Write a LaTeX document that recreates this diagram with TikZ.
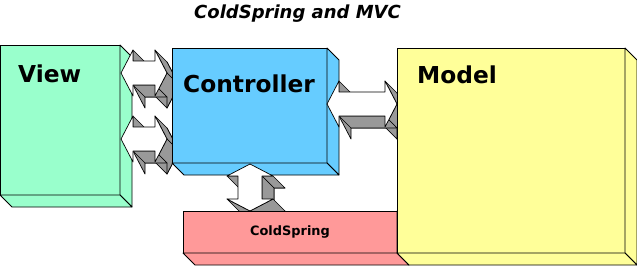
\documentclass[tikz,border=0pt]{standalone}
\usepackage{fontspec}
\setmainfont{DejaVu Sans}
\usepackage{tikz}
\usetikzlibrary{positioning,calc}

\definecolor{viewgreen}{HTML}{99FFCC}
\definecolor{ctrlblue}{HTML}{66CCFF}
\definecolor{modelyellow}{HTML}{FFFF99}
\definecolor{springred}{HTML}{FF9999}
\definecolor{arrowgrey}{HTML}{999999}

% right and bottom faces of a box node
\newcommand\boxdepth[2]{%
  \draw[depthface, fill=#2] (#1.north east) -- ([depthshift]#1.north east)
        -- ([depthshift]#1.south east) -- (#1.south east) -- cycle;
  \draw[depthface, fill=#2] (#1.south west) -- (#1.south east)
        -- ([depthshift]#1.south east) -- ([depthshift]#1.south west) -- cycle;
}

% double block arrow, left tip #1 to right tip #2
\newcommand\hlink[2]{%
  \path let \p1=(#1), \p2=(#2) in
    (\x1,\y1)             coordinate (a1)
    (\x1+12pt,\y1+23pt)   coordinate (a2)
    (\x1+12pt,\y1+12pt)   coordinate (a3)
    (\x2-12pt,\y1+12pt)   coordinate (a4)
    (\x2-12pt,\y1+23pt)   coordinate (a5)
    (\x2,\y1)             coordinate (a6)
    (\x2-12pt,\y1-23pt)   coordinate (a7)
    (\x2-12pt,\y1-12pt)   coordinate (a8)
    (\x1+12pt,\y1-12pt)   coordinate (a9)
    (\x1+12pt,\y1-23pt)   coordinate (a10);
  \draw[arrowface, fill=arrowgrey] ([depthshift]a1)
    \foreach \k in {2,...,10} { -- ([depthshift]a\k) } -- cycle;
  \foreach \u/\v in {a2/a3, a5/a6, a6/a7, a7/a8, a8/a9}
    \draw[arrowface, fill=arrowgrey] (\u) -- (\v) -- ([depthshift]\v) -- ([depthshift]\u) -- cycle;
  \draw[arrowface, fill=white] (a1) \foreach \k in {2,...,10} { -- (a\k) } -- cycle;
}

% same, upright: top tip #1 to bottom tip #2
\newcommand\vlink[2]{%
  \path let \p1=(#1), \p2=(#2) in
    (\x1,\y1)             coordinate (a1)
    (\x1+23pt,\y1-12pt)   coordinate (a2)
    (\x1+12pt,\y1-12pt)   coordinate (a3)
    (\x1+12pt,\y2+12pt)   coordinate (a4)
    (\x1+23pt,\y2+12pt)   coordinate (a5)
    (\x1,\y2)             coordinate (a6)
    (\x1-23pt,\y2+12pt)   coordinate (a7)
    (\x1-12pt,\y2+12pt)   coordinate (a8)
    (\x1-12pt,\y1-12pt)   coordinate (a9)
    (\x1-23pt,\y1-12pt)   coordinate (a10);
  \draw[arrowface, fill=arrowgrey] ([depthshift]a1)
    \foreach \k in {2,...,10} { -- ([depthshift]a\k) } -- cycle;
  \foreach \u/\v in {a2/a3, a3/a4, a5/a6, a6/a7, a9/a10}
    \draw[arrowface, fill=arrowgrey] (\u) -- (\v) -- ([depthshift]\v) -- ([depthshift]\u) -- cycle;
  \draw[arrowface, fill=white] (a1) \foreach \k in {2,...,10} { -- (a\k) } -- cycle;
}

\begin{document}
\begin{tikzpicture}[
    x=1pt, y=1pt,
    depthshift/.style={shift={(12pt,-12pt)}},
    box/.style={draw, line width=.8pt, inner sep=0pt, outer sep=0pt},
    depthface/.style={draw, line width=.8pt, line join=round},
    arrowface/.style={draw, line width=.7pt, line join=round},
    boxlabel/.style={font=\fontsize{23.3}{28}\selectfont\bfseries,
                     inner sep=0pt, anchor=base west},
]
\useasboundingbox (0,0) rectangle (637,-266);

% --- View (left) ---
\node[box, fill=viewgreen, minimum width=120pt, minimum height=150pt,
      anchor=north west] (view) at (0,-45) {};
\boxdepth{view}{viewgreen}
\node[boxlabel] (viewlbl) at ($(view.north west)+(18,-37)$) {View};

% two links View <-> Controller
\coordinate (vc1) at ($(view.north east)+(1,-28)$);
\coordinate (cv1) at ($(vc1)+(46,0)$);
\coordinate (vc2) at ($(vc1)+(0,-66)$);
\coordinate (cv2) at ($(vc2)+(46,0)$);
\hlink{vc1}{cv1}
\hlink{vc2}{cv2}

% --- Controller (middle) ---
\node[box, fill=ctrlblue, minimum width=155pt, minimum height=115pt,
      right=52pt of view.north east, anchor=north west, yshift=-3pt] (ctrl) {};
\boxdepth{ctrl}{ctrlblue}
\node[boxlabel] (ctrllbl) at ($(ctrl.north west)+(11,-44)$) {Controller};

% Controller <-> Model and Controller <-> ColdSpring
\coordinate (cm) at ($(ctrl.north east)+(0,-56)$);
\coordinate (mc) at ($(cm)+(70,0)$);
\hlink{cm}{mc}
\coordinate (cs) at ($(ctrl.south west)+(78,-1)$);
\coordinate (sc) at ($(cs)+(0,-47)$);
\vlink{cs}{sc}

% --- ColdSpring (bottom), partly behind the Model ---
\node[box, fill=springred, minimum width=214pt, minimum height=42pt,
      anchor=north west, font=\fontsize{12.9}{15}\selectfont\bfseries]
      (spring) at ($(sc)+(-67,0)$) {ColdSpring};
\boxdepth{spring}{springred}

% --- Model (right) ---
\node[box, fill=modelyellow, minimum width=228pt, minimum height=205pt,
      right=70pt of ctrl.north east, anchor=north west] (model) {};
\boxdepth{model}{modelyellow}
\node[boxlabel] (modellbl) at ($(model.north west)+(20,-35)$) {Model};

\node[font=\fontsize{18}{22}\selectfont\bfseries\itshape, anchor=base]
      (title) at (297.5,-18) {ColdSpring and MVC};
\end{tikzpicture}
\end{document}
